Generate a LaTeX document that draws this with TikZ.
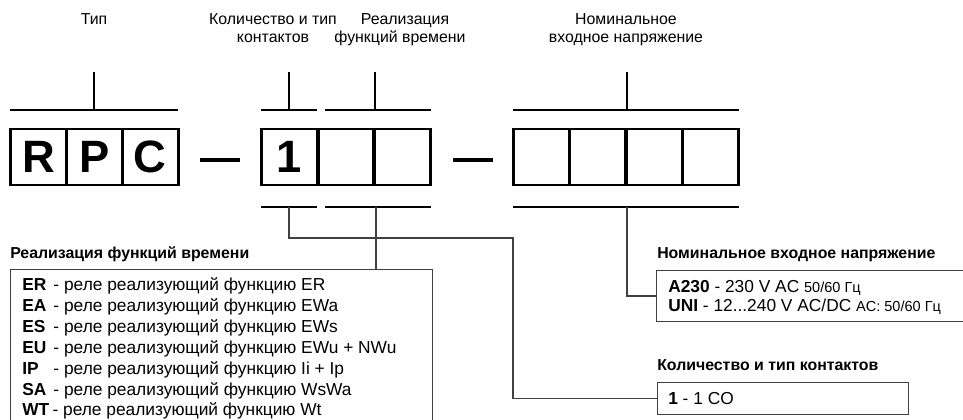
\documentclass[tikz,border=0pt]{standalone}
\usepackage{fontspec}
\setmainfont{Liberation Sans}
\begin{document}
\begin{tikzpicture}[x=0.75pt,y=-0.75pt,
 cell/.style={draw, line width=2.2pt, minimum width=41.8pt, minimum height=42pt, inner sep=0pt, font=\fontsize{34}{34}\selectfont\bfseries},
 bar/.style={fill=black, minimum width=30pt, minimum height=3pt, inner sep=0pt},
 toplabel/.style={anchor=base, inner sep=0pt, font=\fontsize{11.9}{14}\selectfont},
 title/.style={anchor=base west, inner sep=0pt, font=\fontsize{11.9}{14}\selectfont\bfseries},
 item/.style={anchor=base west, inner sep=0pt, font=\fontsize{13}{15}\selectfont},
 infobox/.style={draw=black!75, line width=0.8pt, anchor=north west, inner sep=0pt},
 tick/.style={line width=1pt},
 conn/.style={draw=black!75, line width=0.9pt}
]
\useasboundingbox (0,0) rectangle (963,420);
\newcommand{\smallhz}[1]{{\fontsize{10.9}{12}\selectfont #1}}
\newcommand{\codebox}[1]{\makebox[1.8em][l]{\textbf{#1}}}

% top labels
\node[toplabel] (lTyp) at (94,25) {Тип};
\node[toplabel] (lCnt1) at (273,25) {Количество и тип};
\node[toplabel] (lCnt2) at (273,43) {контактов};
\node[toplabel] (lFun1) at (405,25) {Реализация};
\node[toplabel] (lFun2) at (400,43) {функций времени};
\node[toplabel] (lVol1) at (626,25) {Номинальное};
\node[toplabel] (lVol2) at (626,43) {входное напряжение};

% code cells
\node[cell] (cR) at (38.8,157) {R};
\node[cell] (cP) at (94.5,157) {P};
\node[cell] (cC) at (150.2,157) {C};
\node[bar] (d1) at (220,160) {};
\node[cell] (k1) at (289.3,157) {1};
\node[cell] (f1) at (346,157) {};
\node[cell] (f2) at (402.7,157) {};
\node[bar] (d2) at (473,160) {};
\node[cell] (v1) at (541.25,157) {};
\node[cell] (v2) at (597.75,157) {};
\node[cell] (v3) at (654.25,157) {};
\node[cell] (v4) at (710.75,157) {};

% brackets above
\draw[tick] (10,110) -- (178,110) (94,72) -- (94,110);
\draw[tick] (261,110) -- (317,110) (289,72) -- (289,110);
\draw[tick] (325,110) -- (431,110) (375,72) -- (375,110);
\draw[tick] (513,110) -- (739,110) (627,72) -- (627,110);
% brackets below
\draw[tick] (261,207) -- (317,207) (325,207) -- (431,207) (513,207) -- (739,207);
\coordinate (kB) at (289,207);
\coordinate (fB) at (376,207);
\coordinate (vB) at (627,207);
\coordinate (kTurn) at (513,238);

% info boxes
\node[infobox, minimum width=316.5pt, minimum height=120.75pt] (fbox) at (10,269) {};
\node[infobox, minimum width=232.5pt, minimum height=38.25pt] (vbox) at (656,270) {};
\node[infobox, minimum width=188.25pt, minimum height=24pt] (kbox) at (657,382) {};

% connectors
\draw[conn] (kB) -- (kB |- kTurn) -- (kTurn) |- (kbox.west);
\draw[conn] (fB) -- (fB |- fbox.north);
\draw[conn] (vB) |- (vbox.west);

% titles
\node[title] (tFun) at (10,258) {Реализация функций времени};
\node[title] (tVol) at (657,258) {Номинальное входное напряжение};
\node[title] (tCnt) at (657,370) {Количество и тип контактов};

% list
\node[item] (iER) at (22,291) {\codebox{ER}- реле реализующий функцию ER};
\node[item] (iEA) at (22,311.8) {\codebox{EA}- реле реализующий функцию EWa};
\node[item] (iES) at (22,332.6) {\codebox{ES}- реле реализующий функцию EWs};
\node[item] (iEU) at (22,353.4) {\codebox{EU}- реле реализующий функцию EWu + NWu};
\node[item] (iIP) at (22,374.2) {\codebox{IP}- реле реализующий функцию Ii + Ip};
\node[item] (iSA) at (22,395) {\codebox{SA}- реле реализующий функцию WsWa};
\node[item] (iWT) at (22,415.8) {\textbf{WT}\hspace{2.5pt}- реле реализующий функцию Wt};

\node[item] (vA) at (668,292) {\textbf{A230} - 230 V AC \smallhz{50/60 Гц}};
\node[item] (vU) at (668,311) {\textbf{UNI} - 12...240 V AC/DC \smallhz{AC: 50/60 Гц}};
\node[item] (kC) at (668,404) {\textbf{1} - 1 CO};
\end{tikzpicture}
\end{document}
